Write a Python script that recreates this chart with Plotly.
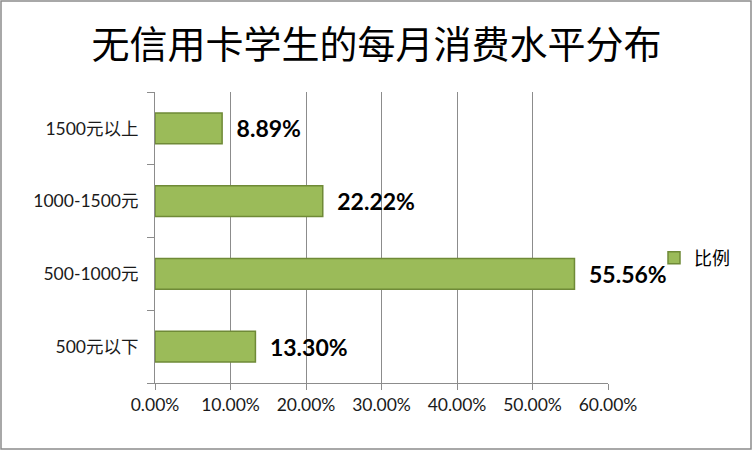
import plotly.graph_objects as go

categories = ['500元以下', '500-1000元', '1000-1500元', '1500元以上']
values = [13.30, 55.56, 22.22, 8.89]
labels = ['13.30%', '55.56%', '22.22%', '8.89%']
x_tickvals = [0, 10, 20, 30, 40, 50, 60]
x_ticktext = ['0.00%', '10.00%', '20.00%', '30.00%', '40.00%', '50.00%', '60.00%']
series_name = '比例'
title_text = '无信用卡学生的每月消费水平分布'

W, H = 753, 451
L, R, T, B = 155, 145, 92, 68
pw, ph = W - L - R, H - T - B

fig = go.Figure()
fig.add_trace(go.Bar(
    x=values, y=categories, orientation='h', name=series_name,
    text=labels, texttemplate='\u2002%{text}', textposition='outside', cliponaxis=False,
    textfont=dict(family='Lato, Liberation Sans', size=23, color='#000000', weight='bold'),
    marker=dict(color='#9bbb59', line=dict(color='#6f8a37', width=1.5)),
    width=0.42, showlegend=True,
))

tick_font = dict(size=17.5, color='#1a1a1a', family='Lato, Noto Sans CJK SC')

fig.update_layout(
    width=W, height=H,
    margin=dict(l=L, r=R, t=T, b=B, autoexpand=False),
    paper_bgcolor='white', plot_bgcolor='white',
    font=dict(family='Lato, Noto Sans CJK SC', color='#1a1a1a'),
    title=dict(text=title_text, x=0.5, xref='container', xanchor='center',
               y=1 - 45 / H, yref='container', yanchor='middle',
               font=dict(size=38, color='#000000', family='Noto Sans CJK SC')),
    xaxis=dict(range=[0, 60], tickvals=x_tickvals, ticktext=x_ticktext,
               automargin=False,
               showgrid=True, gridcolor='#8c8c8c', gridwidth=1,
               showline=True, linecolor='#8c8c8c', linewidth=1,
               ticks='outside', ticklen=6, tickcolor='#8c8c8c',
               tickfont=tick_font, zeroline=False, fixedrange=True),
    yaxis=dict(type='category', showgrid=False, automargin=False,
               showline=True, linecolor='#8c8c8c', linewidth=1,
               ticks='outside', ticklen=7, tickcolor='#8c8c8c', tickson='boundaries',
               ticklabelstandoff=12,
               tickfont=tick_font, range=[-0.5, 3.5], fixedrange=True),
    legend=dict(x=(654 - L) / pw, y=(H - B - 258) / ph, xanchor='left', yanchor='middle',
                font=dict(size=18, color='#000000', family='Noto Sans CJK SC'),
                bgcolor='rgba(0,0,0,0)', itemwidth=30),
    shapes=[dict(type='rect', xref='paper', yref='paper',
                 x0=(1 - L) / pw, x1=(W - 2 - L) / pw,
                 y0=(H - B - (H - 2)) / ph, y1=(H - B - 1) / ph,
                 line=dict(color='#8c8c8c', width=1.5), fillcolor='rgba(0,0,0,0)', layer='below')],
)

fig.write_html('out.html', config={'displayModeBar': False},
               post_script="document.body.style.margin='0';document.body.style.overflow='hidden';")
